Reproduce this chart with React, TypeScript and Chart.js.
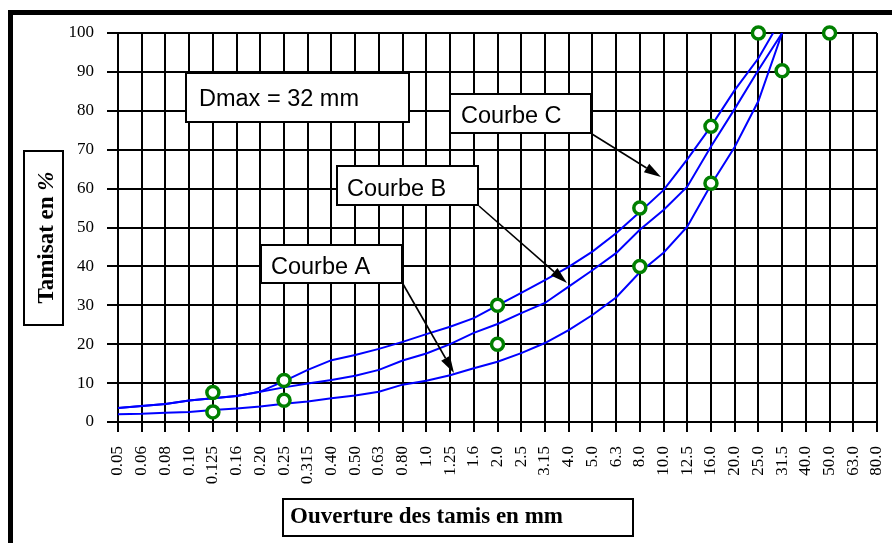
import React, { useEffect, useRef } from 'react';
import { Chart, registerables } from 'chart.js';

Chart.register(...registerables);

// Sieve openings (mm) — category axis
const sieveLabels = [
  '0.05', '0.06', '0.08', '0.10', '0.125', '0.16', '0.20', '0.25', '0.315', '0.40', '0.50',
  '0.63', '0.80', '1.0', '1.25', '1.6', '2.0', '2.5', '3.15', '4.0', '5.0', '6.3', '8.0',
  '10.0', '12.5', '16.0', '20.0', '25.0', '31.5', '40.0', '50.0', '63.0', '80.0',
];

// Passing percentages of the three grading curves
const courbeA = [
  2.0, 2.1, 2.4, 2.6, 3.1, 3.5, 4.0, 4.7, 5.3, 6.1, 6.8, 7.8, 9.6, 10.6, 12.0, 13.8, 15.5,
  17.7, 20.3, 23.6, 27.5, 32.0, 38.5, 43.5, 50.2, 61.0, 70.7, 82.5, 100, null, null, null, null,
];
const courbeB = [
  3.6, 4.1, 4.6, 5.5, 6.1, 6.7, 7.8, 8.9, 9.9, 10.8, 11.9, 13.4, 15.8, 17.6, 20.0, 22.9, 25.2,
  28.0, 30.6, 34.8, 39.0, 43.4, 49.4, 54.5, 60.5, 70.8, 80.5, 90.5, 100, null, null, null, null,
];
const courbeC = [
  3.6, 4.1, 4.6, 5.5, 6.1, 6.7, 7.8, 10.5, 13.4, 15.9, 17.2, 18.8, 20.6, 22.6, 24.5, 26.7, 30.0,
  33.2, 36.5, 39.9, 43.8, 48.5, 54.0, 59.6, 67.5, 76.0, 85.3, 93.5, 104, null, null, null, null,
];

// Spindle limit points (green circles)
const upperLimitSieves = ['0.125', '0.25', '2.0', '8.0', '16.0', '25.0'];
const upperLimitValues = [7.6, 10.7, 30, 55, 76, 100];
const lowerLimitSieves = ['0.125', '0.25', '2.0', '8.0', '16.0', '31.5', '50.0'];
const lowerLimitValues = [2.6, 5.6, 20, 40, 61.4, 90.3, 100];

const yMin = 0;
const yMax = 100;
const yStep = 10;

const xTitle = 'Ouverture des tamis en mm';
const yTitleMain = 'Tamisat en ';
const yTitleUnit = '%';

const SANS = '"Liberation Sans", Arial, sans-serif';
const SERIF = '"Liberation Serif", "Times New Roman", serif';

const noteBoxes = [
  { text: 'Dmax = 32 mm', x: 186, y: 73, w: 223, h: 49, tx: 199, ty: 105.5 },
  { text: 'Courbe C', x: 450, y: 94, w: 141, h: 39, tx: 461, ty: 123 },
  { text: 'Courbe B', x: 337, y: 166, w: 141, h: 39, tx: 347, ty: 196 },
  { text: 'Courbe A', x: 261, y: 245, w: 141, h: 38, tx: 271, ty: 274 },
];

const arrows = [
  { x1: 592, y1: 134, x2: 661, y2: 177 },
  { x1: 479, y1: 206, x2: 567, y2: 283 },
  { x1: 403, y1: 284, x2: 454, y2: 373 },
];

function drawArrow(ctx: CanvasRenderingContext2D, a: { x1: number; y1: number; x2: number; y2: number }) {
  const ang = Math.atan2(a.y2 - a.y1, a.x2 - a.x1);
  const len = 17;
  const hw = 5;
  const bx = a.x2 - len * Math.cos(ang);
  const by = a.y2 - len * Math.sin(ang);
  ctx.strokeStyle = '#000';
  ctx.lineWidth = 1.6;
  ctx.beginPath();
  ctx.moveTo(a.x1, a.y1);
  ctx.lineTo(bx, by);
  ctx.stroke();
  ctx.fillStyle = '#000';
  ctx.beginPath();
  ctx.moveTo(a.x2, a.y2);
  ctx.lineTo(bx + hw * Math.sin(ang), by - hw * Math.cos(ang));
  ctx.lineTo(bx - hw * Math.sin(ang), by + hw * Math.cos(ang));
  ctx.closePath();
  ctx.fill();
}

const overlay = {
  id: 'overlay',
  afterDatasetsDraw(chart: any) {
    const ctx: CanvasRenderingContext2D = chart.ctx;
    ctx.save();
    for (const b of noteBoxes) {
      ctx.fillStyle = '#fff';
      ctx.fillRect(b.x, b.y, b.w, b.h);
      ctx.strokeStyle = '#000';
      ctx.lineWidth = 2;
      ctx.strokeRect(b.x, b.y, b.w, b.h);
      ctx.fillStyle = '#000';
      ctx.font = `23.5px ${SANS}`;
      ctx.textAlign = 'left';
      ctx.textBaseline = 'alphabetic';
      ctx.fillText(b.text, b.tx, b.ty);
    }
    for (const a of arrows) drawArrow(ctx, a);
    ctx.restore();
  },
  afterDraw(chart: any) {
    const ctx: CanvasRenderingContext2D = chart.ctx;
    ctx.save();
    // outer frame (top + left)
    ctx.fillStyle = '#000';
    ctx.fillRect(8, 10, 884, 5);
    ctx.fillRect(8, 10, 5, 533);

    // y title box
    ctx.fillStyle = '#fff';
    ctx.fillRect(24, 151, 39, 174);
    ctx.strokeStyle = '#000';
    ctx.lineWidth = 2;
    ctx.strokeRect(24, 151, 39, 174);
    ctx.save();
    ctx.translate(53, 237.5);
    ctx.rotate(-Math.PI / 2);
    const fMain = `bold 23px ${SERIF}`;
    const fUnit = `italic bold 23px ${SERIF}`;
    ctx.font = fMain;
    const w1 = ctx.measureText(yTitleMain).width;
    ctx.font = fUnit;
    const w2 = ctx.measureText(yTitleUnit).width;
    const start = -(w1 + w2) / 2;
    ctx.fillStyle = '#000';
    ctx.textAlign = 'left';
    ctx.textBaseline = 'alphabetic';
    ctx.font = fMain;
    ctx.fillText(yTitleMain, start, 0);
    ctx.font = fUnit;
    ctx.fillText(yTitleUnit, start + w1, 0);
    ctx.restore();

    // x title box
    ctx.fillStyle = '#fff';
    ctx.fillRect(283, 499, 350, 37);
    ctx.strokeStyle = '#000';
    ctx.lineWidth = 2;
    ctx.strokeRect(283, 499, 350, 37);
    ctx.fillStyle = '#000';
    ctx.font = `bold 23px ${SERIF}`;
    ctx.textAlign = 'left';
    ctx.textBaseline = 'alphabetic';
    ctx.fillText(xTitle, 290, 523);
    ctx.restore();
  },
};

export default function App() {
  const ref = useRef<HTMLCanvasElement>(null);
  useEffect(() => {
    const pointStyle = {
      showLine: false,
      pointRadius: 6,
      pointHoverRadius: 6,
      pointBorderWidth: 3.5,
      pointBorderColor: '#008000',
      pointBackgroundColor: '#ffffff',
      borderColor: '#008000',
      backgroundColor: '#ffffff',
      clip: false as const,
      order: 0,
    };
    const lineStyle = {
      borderColor: '#0000ff',
      borderWidth: 2,
      pointRadius: 0,
      tension: 0,
      fill: false,
      spanGaps: false,
      order: 1,
    };
    const chart = new Chart(ref.current as HTMLCanvasElement, {
      type: 'line',
      data: {
        labels: sieveLabels,
        datasets: [
          { label: 'Limite supérieure', data: upperLimitSieves.map((x, i) => ({ x, y: upperLimitValues[i] })), ...pointStyle } as any,
          { label: 'Limite inférieure', data: lowerLimitSieves.map((x, i) => ({ x, y: lowerLimitValues[i] })), ...pointStyle } as any,
          { label: 'Courbe A', data: courbeA, ...lineStyle } as any,
          { label: 'Courbe B', data: courbeB, ...lineStyle } as any,
          { label: 'Courbe C', data: courbeC, ...lineStyle } as any,
        ],
      },
      options: {
        responsive: false,
        animation: false,
        devicePixelRatio: 1,
        layout: { padding: { top: 33, right: 15, left: 0, bottom: 0 } },
        plugins: { legend: { display: false }, tooltip: { enabled: false } },
        scales: {
          x: {
            type: 'category',
            offset: false,
            grid: { color: '#000', lineWidth: 2, tickLength: 10, drawTicks: true },
            border: { color: '#000', width: 2 },
            ticks: {
              autoSkip: false,
              maxRotation: 90,
              minRotation: 90,
              padding: 14,
              color: '#000',
              font: { family: SERIF, size: 17 },
            },
            afterFit: (s: any) => {
              s.height = 121;
              s.paddingRight = 0;
              s.paddingLeft = 0;
            },
          },
          y: {
            min: yMin,
            max: yMax,
            grid: { color: '#000', lineWidth: 2, tickLength: 11, drawTicks: true },
            border: { color: '#000', width: 2 },
            ticks: {
              stepSize: yStep,
              padding: 13,
              color: '#000',
              font: { family: SERIF, size: 17 },
            },
            afterFit: (s: any) => {
              s.width = 118;
              s.paddingTop = 0;
              s.paddingBottom = 0;
            },
          },
        },
      } as any,
      plugins: [overlay],
    });
    return () => chart.destroy();
  }, []);
  return (
    <div style={{ position: 'fixed', left: 0, top: 0, width: 892, height: 543, background: '#fff' }}>
      <canvas ref={ref} width={892} height={543} style={{ display: 'block', width: 892, height: 543 }} />
    </div>
  );
}
